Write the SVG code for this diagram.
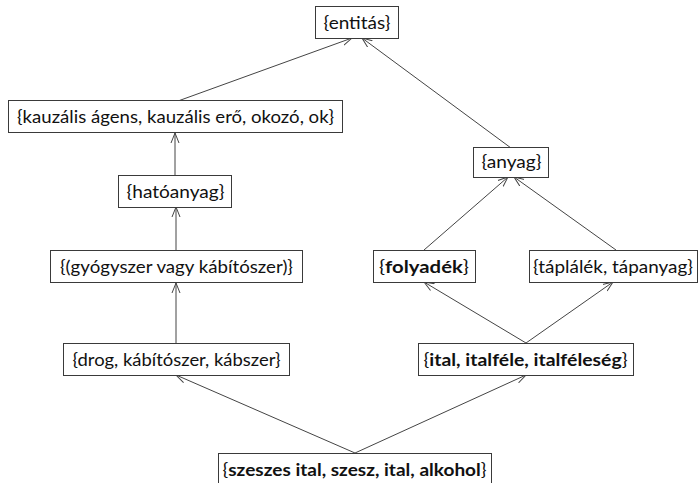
<svg xmlns="http://www.w3.org/2000/svg" width="699" height="483" viewBox="0 0 699 483">
<style>
.box{fill:#fff;stroke:#3a3a3a;stroke-width:1}
.t{font-family:Lato,"Liberation Sans",sans-serif;font-size:17px;fill:#111;text-anchor:middle}
.b{font-weight:bold}
.c{fill:none;stroke:#444;stroke-width:1;marker-end:url(#ah)}
</style>
<defs>
<marker id="ah" viewBox="0 0 10 10" refX="10" refY="5" markerWidth="10" markerHeight="10" markerUnits="userSpaceOnUse" orient="auto">
<path d="M0,1 L10,5 L0,9" fill="none" stroke="#444" stroke-width="1"/>
</marker>
</defs>
<rect width="699" height="483" fill="#fff"/>
<g id="connectors">
<line class="c" x1="178" y1="101" x2="352" y2="38"/>
<line class="c" x1="511" y1="148" x2="362" y2="38"/>
<line class="c" x1="175" y1="175" x2="175" y2="133"/>
<line class="c" x1="176" y1="250" x2="176" y2="207"/>
<line class="c" x1="176" y1="343" x2="176" y2="283"/>
<line class="c" x1="424" y1="250" x2="508" y2="177"/>
<line class="c" x1="616" y1="250" x2="514" y2="177"/>
<line class="c" x1="526" y1="343" x2="424" y2="282"/>
<line class="c" x1="526" y1="343" x2="613" y2="282"/>
<line class="c" x1="355" y1="453" x2="176" y2="375"/>
<line class="c" x1="355" y1="453" x2="526" y2="375"/>
</g>
<g id="n-entitas"><rect class="box" x="315.5" y="6.5" width="83" height="32"/><text class="t" x="357" y="28.5" textLength="67" lengthAdjust="spacingAndGlyphs">{entitás}</text></g>
<g id="n-kauzalis"><rect class="box" x="8.5" y="100.5" width="334" height="32"/><text class="t" x="175.5" y="122.5" textLength="317" lengthAdjust="spacingAndGlyphs">{kauzális ágens, kauzális erő, okozó, ok}</text></g>
<g id="n-hatoanyag"><rect class="box" x="118.5" y="175.5" width="113" height="32"/><text class="t" x="175.5" y="197.5" textLength="98" lengthAdjust="spacingAndGlyphs">{hatóanyag}</text></g>
<g id="n-gyogyszer"><rect class="box" x="50.5" y="250.5" width="252" height="32"/><text class="t" x="176.5" y="272.5" textLength="233" lengthAdjust="spacingAndGlyphs">{(gyógyszer vagy kábítószer)}</text></g>
<g id="n-drog"><rect class="box" x="63.5" y="343.5" width="226" height="32"/><text class="t" x="176.5" y="365.5" textLength="208" lengthAdjust="spacingAndGlyphs">{drog, kábítószer, kábszer}</text></g>
<g id="n-anyag"><rect class="box" x="473.5" y="147.5" width="75" height="30"/><text class="t" x="511.5" y="168" textLength="60" lengthAdjust="spacingAndGlyphs">{anyag}</text></g>
<g id="n-folyadek"><rect class="box" x="373.5" y="250.5" width="102" height="32"/><text class="t" x="424" y="272.5" textLength="90" lengthAdjust="spacingAndGlyphs">{<tspan class="b">folyadék</tspan>}</text></g>
<g id="n-taplalek"><rect class="box" x="529.5" y="250.5" width="168" height="32"/><text class="t" x="613" y="272.5" textLength="160" lengthAdjust="spacingAndGlyphs">{táplálék, tápanyag}</text></g>
<g id="n-ital"><rect class="box" x="418.5" y="343.5" width="215" height="32"/><text class="t" x="525.5" y="365.5" textLength="204" lengthAdjust="spacingAndGlyphs">{<tspan class="b">ital, italféle, italféleség</tspan>}</text></g>
<g id="n-szeszes"><rect class="box" x="218.5" y="453.5" width="273" height="32"/><text class="t" x="354.5" y="475.5" textLength="264" lengthAdjust="spacingAndGlyphs">{<tspan class="b">szeszes ital, szesz, ital, alkohol</tspan>}</text></g>
</svg>
